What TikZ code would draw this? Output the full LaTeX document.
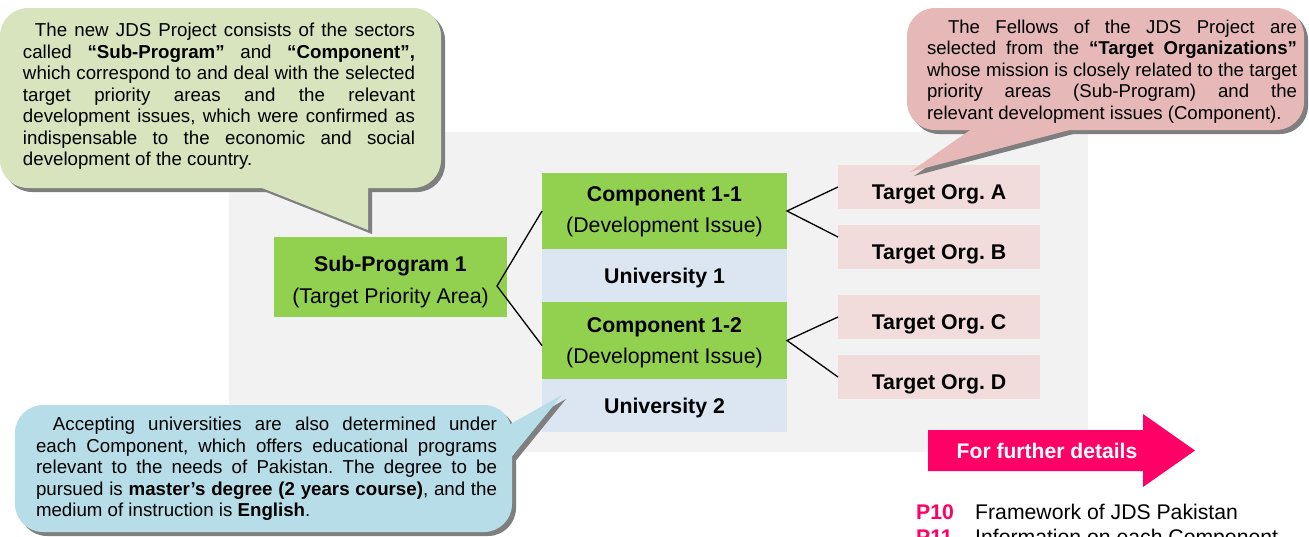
\documentclass[tikz,border=0pt]{standalone}
\usepackage{fontspec}
\setmainfont{Liberation Sans}
\usetikzlibrary{calc}
\frenchspacing
\definecolor{bggray}{HTML}{F2F2F2}
\definecolor{calloutgreen}{HTML}{D7E4BD}
\definecolor{calloutpink}{HTML}{E6B9B8}
\definecolor{calloutblue}{HTML}{B7DEE8}
\definecolor{shadowgray}{HTML}{7F7F7F}
\definecolor{nodegreen}{HTML}{92D050}
\definecolor{unifill}{HTML}{DCE6F2}
\definecolor{orgfill}{HTML}{F2DCDB}
\definecolor{arrowpink}{HTML}{FF0066}
\newcommand\myCallFont{\fontsize{18.7}{21.5}\selectfont\tolerance=10000\hyphenpenalty=10000\parindent=0pt}
\newcommand\myPinkFont{\fontsize{18.6}{21.5}\selectfont\tolerance=10000\hyphenpenalty=10000\parindent=0pt}
\newcommand\myNodeFont{\fontsize{21.3}{31.5}\selectfont}
\newcommand\greenCallout[1]{%
  \fill[#1,rounded corners=28pt] (0,8) rectangle (441,188);
  \fill[#1] (257,186) -- (368,230) -- (368,186) -- cycle;}
\newcommand\pinkCallout[1]{%
  \fill[#1,rounded corners=28pt] (907,8) rectangle (1304,130);
  \fill[#1] (973,128) -- (910,172) -- (1077,128) -- cycle;}
\newcommand\blueCallout[1]{%
  \fill[#1,rounded corners=28pt] (15,405) rectangle (512,532);
  \fill[#1] (500,430) -- (562,395) -- (505,465) -- cycle;}
\tikzset{
  boxbase/.style={inner sep=0pt, outer sep=0pt, font=\myNodeFont, align=center},
  greenbox/.style={boxbase, fill=nodegreen},
  unibox/.style={boxbase, fill=unifill, minimum width=245pt, minimum height=53pt,
    text height=15pt, text depth=0pt, font=\myNodeFont\bfseries},
  orgbox/.style={boxbase, fill=orgfill, minimum width=202pt, minimum height=44pt,
    text height=24pt, text depth=0pt, font=\myNodeFont\bfseries},
  link/.style={draw=black, line width=1.3pt},
  callouttext/.style={inner sep=0pt, outer sep=0pt, anchor=north west, align=justify, font=\myCallFont},
  reftext/.style={anchor=base west, inner sep=0pt, font=\fontsize{21.2}{25}\selectfont},
}
\begin{document}
\begin{tikzpicture}[x=1pt,y=-1pt]
\useasboundingbox (0,0) rectangle (1309,536);
\fill[bggray] (229,132) rectangle (1088,452);

% main nodes
\node[greenbox, minimum width=233pt, minimum height=80pt] (sub) at (390.5,277)
  {\rule{0pt}{25.5pt}\textbf{Sub-Program 1}\\(Target Priority Area)};
\node[greenbox, minimum width=245pt, minimum height=76pt] (c11) at (664.5,211)
  {\rule{0pt}{16.5pt}\textbf{Component 1-1}\\(Development Issue)};
\node[unibox] (u1) at (664.5,275.5) {University 1};
\node[greenbox, minimum width=245pt, minimum height=77pt] (c12) at (664.5,340.5)
  {\rule{0pt}{19.5pt}\textbf{Component 1-2}\\(Development Issue)};
\node[unibox] (u2) at (664.5,405.5) {University 2};

\node[orgbox] (tA) at (939,187) {Target Org. A};
\node[orgbox] (tB) at (939,247) {Target Org. B};
\node[orgbox] (tC) at (939,317) {Target Org. C};
\node[orgbox] (tD) at (939,377) {Target Org. D};

% connectors
\coordinate (sv) at ([xshift=-10pt,yshift=-9pt]sub.east);
\draw[link] (c11.west) -- (sv) -- ([yshift=-5pt]c12.west);
\draw[link] (tA.west) -- (c11.east) -- ([yshift=10pt]tB.west);
\draw[link] (tC.west) -- (c12.east) -- (tD.west);

% callouts
\begin{scope}[shift={(4,4)}]\greenCallout{shadowgray}\end{scope}
\greenCallout{calloutgreen}
\begin{scope}[shift={(4,4)}]\pinkCallout{shadowgray}\end{scope}
\pinkCallout{calloutpink}
\begin{scope}[shift={(4,4)}]\blueCallout{shadowgray}\end{scope}
\blueCallout{calloutblue}

\node[callouttext, text width=392pt] (gtext) at (23,21.45)
  {\strut\hspace*{12pt}The new JDS Project consists of the sectors\linebreak
   called \textbf{“Sub-Program”} and \textbf{“Component”,}\linebreak
   which correspond to and deal with the selected\linebreak
   target priority areas and the relevant\linebreak
   development issues, which were confirmed as\linebreak
   indispensable to the economic and social\linebreak
   development of the country.};

\node[callouttext, text width=370pt, font=\myPinkFont] (ptext) at (927,17.95)
  {\strut\hspace*{21pt}The Fellows of the JDS Project are\linebreak
   selected from the \textbf{“Target Organizations”}\linebreak
   whose mission is closely related to the target\linebreak
   priority areas (Sub-Program) and the\linebreak
   relevant development issues (Component).};

\node[callouttext, text width=461pt] (btext) at (36,415.45)
  {\strut\hspace*{17pt}Accepting universities are also determined under\linebreak
   each Component, which offers educational programs\linebreak
   relevant to the needs of Pakistan. The degree to be\linebreak
   pursued is \textbf{master’s degree (2 years course)}, and the\linebreak
   medium of instruction is \textbf{English}.};

% further details arrow
\fill[arrowpink] (928,430) -- (1143,430) -- (1143,414) -- (1195,450.5)
  -- (1143,487) -- (1143,471) -- (928,471) -- cycle;
\node[inner sep=0pt, text=white, text height=14.5pt, text depth=0pt,
  font=\fontsize{21.1}{24}\selectfont\bfseries] (more) at (1047,451) {For further details};

\node[reftext, text=arrowpink, font=\fontsize{21.2}{25}\selectfont\bfseries] (p10) at (916,519) {P10};
\node[reftext] (p10t) at (975,519) {Framework of JDS Pakistan};
\node[reftext, text=arrowpink, font=\fontsize{21.2}{25}\selectfont\bfseries] (p11) at (916,544.5) {P11};
\node[reftext] (p11t) at (975,544.5) {Information on each Component};
\end{tikzpicture}
\end{document}
